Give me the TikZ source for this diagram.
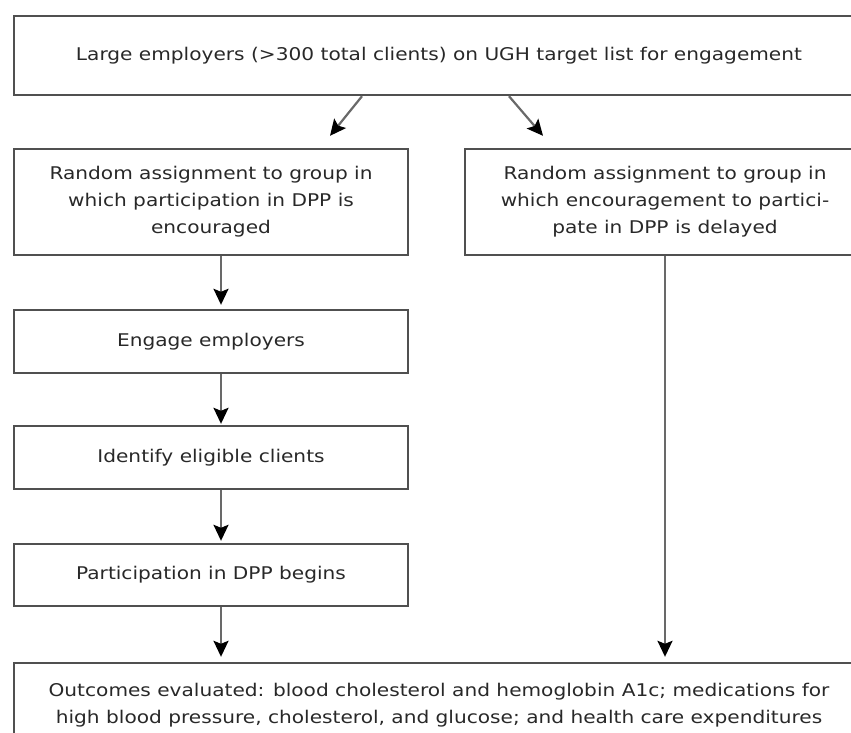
\documentclass[tikz,border=0pt]{standalone}
\usepackage{fontspec}
\setmainfont{DejaVu Sans}[FakeStretch=1.15]
\usetikzlibrary{positioning}
\usetikzlibrary{arrows.meta}
\definecolor{edge}{RGB}{80,80,80}
\definecolor{shaft}{RGB}{105,105,105}
\definecolor{ink}{RGB}{40,40,40}

\begin{document}
\begin{tikzpicture}[x=1pt, y=-1pt, every node/.style={font=\fontsize{17.5}{27}\selectfont, text=ink},
    box/.style={draw=edge, line width=2.4pt, align=center, inner sep=0pt},
    arr/.style={shaft, line width=2.2pt, -{Stealth[black, length=16pt, width=15pt, inset=3pt]}}]
    \path[use as bounding box, clip] (0,0) rectangle (851,733);
    % top and the two groups
    \node[box, minimum width=850, minimum height=79] (top) at (439, 55.5) {Large employers (>300 total clients) on UGH target list for engagement};
    \node[box, minimum width=394, minimum height=106] (enc) at (211, 202) {Random assignment to group in\\which participation in DPP is\\encouraged};
    \node[box, minimum width=400, minimum height=106] (del) at (665, 202) {Random assignment to group in\\which encouragement to partici-\\pate in DPP is delayed};
    % steps of the encouraged group
    \node[box, minimum width=394, minimum height=63] (engage) at (211, 341.5) {Engage employers};
    \node[box, minimum width=394, minimum height=63] (ident) at (211, 457.5) {Identify eligible clients};
    \node[box, minimum width=394, minimum height=62] (begin) at (211, 575) {Participation in DPP begins};
    \node[box, minimum width=850, minimum height=84] (out) at (439, 705) {Outcomes evaluated: blood cholesterol and hemoglobin A1c; medications for\\high blood pressure, cholesterol, and glucose; and health care expenditures};
    \draw[arr] ([xshift=-77]top.south) -- ([xshift=119, yshift=12]enc.north);
    \draw[arr] ([xshift=70]top.south) -- ([xshift=-122, yshift=12]del.north);
    \draw[arr, shorten >=4pt] ([xshift=10]enc.south) -- ([xshift=10]engage.north);
    \draw[arr, shorten >=1pt] ([xshift=10]engage.south) -- ([xshift=10]ident.north);
    \draw[arr, shorten >=2pt] ([xshift=10]ident.south) -- ([xshift=10]begin.north);
    \draw[arr, shorten >=5pt] ([xshift=10]begin.south) -- ([xshift=10]begin.south |- out.north);
    \draw[arr, shorten >=5pt] (del.south) -- (del.south |- out.north);
\end{tikzpicture}
\end{document}
